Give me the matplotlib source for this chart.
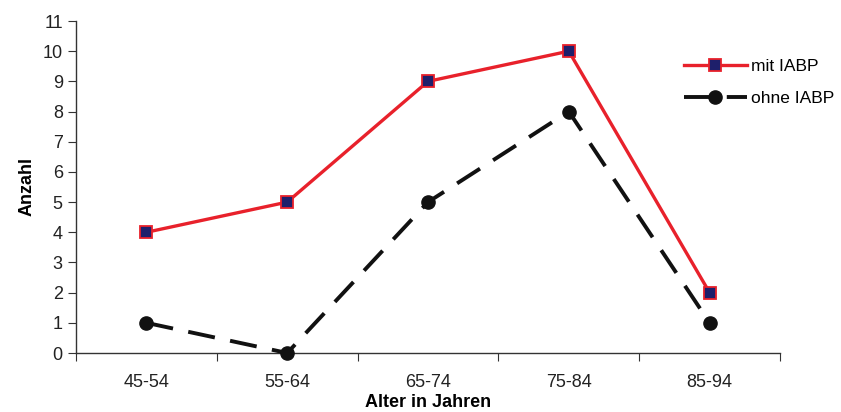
import matplotlib
matplotlib.use("Agg")
import matplotlib.pyplot as plt

categories = ["45-54", "55-64", "65-74", "75-84", "85-94"]
mit_iabp = [4, 5, 9, 10, 2]
ohne_iabp = [1, 0, 5, 8, 1]
yticks = list(range(0, 12))

plt.rcParams['font.family'] = ['Liberation Sans', 'DejaVu Sans']

fig = plt.figure(figsize=(8.41, 4.12), dpi=100)
ax = fig.add_axes([76/841, 1-353/412, (780-76)/841, (353-21)/412])

x = list(range(len(categories)))
ax.plot(x, mit_iabp, color='#E8212B', lw=2.4, marker='s', markersize=9,
        markerfacecolor='#1E1F6B', markeredgecolor='#E8212B', markeredgewidth=1.3,
        label='mit IABP', zorder=4, clip_on=False)
ax.plot(x, ohne_iabp, color='#111111', lw=2.8, dashes=(7, 4), marker='o', markersize=9.5,
        markerfacecolor='#111111', markeredgecolor='#111111', label='ohne IABP', zorder=3,
        clip_on=False)

ax.set_xlim(-0.5, len(categories) - 0.5)
ax.set_ylim(0, 11)
ax.set_yticks(yticks)
ax.set_xticks([i + 0.5 for i in range(-1, len(categories))], minor=False)
ax.set_xticklabels([])
ax.set_xticks(x, minor=True)
ax.set_xticklabels(categories, minor=True)
ax.tick_params(axis='x', which='major', length=6, direction='out', color='#333333')
ax.tick_params(axis='x', which='minor', length=0, pad=15, labelsize=13, labelcolor='#222222')
ax.tick_params(axis='y', length=6, direction='out', labelsize=13, labelcolor='#222222', color='#333333')

for s in ['top', 'right']:
    ax.spines[s].set_visible(False)
for s in ['left', 'bottom']:
    ax.spines[s].set_color('#333333')
    ax.spines[s].set_linewidth(1.0)

ax.set_ylabel('Anzahl', fontsize=13, fontweight='bold')
ax.yaxis.set_label_coords(-(76-36)/704, 0.5)
ax.set_xlabel('Alter in Jahren', fontsize=13, fontweight='bold')
ax.xaxis.set_label_coords(0.5, -(394-353)/332)

leg = fig.legend(loc='upper left', bbox_to_anchor=(684/841, 1-59/412), frameon=False,
                 fontsize=12.5, handlelength=3.6, handletextpad=0.25, labelspacing=0.95,
                 borderaxespad=0, borderpad=0)
fig.savefig('out.png', dpi=100)
